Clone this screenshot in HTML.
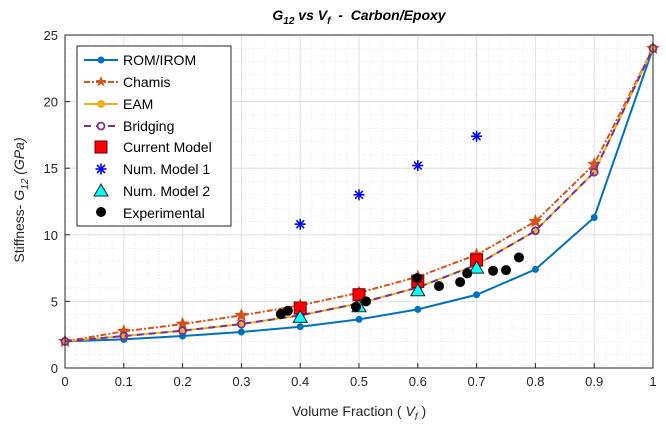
<!DOCTYPE html>
<html><head><meta charset="utf-8"><style>
body{margin:0;background:#fff;font-family:"Liberation Sans",Arial,sans-serif}
svg text{font-family:"Liberation Sans",Arial,sans-serif}
</style></head><body>
<svg id="chart" width="666" height="432" xmlns="http://www.w3.org/2000/svg">
<rect x="0" y="0" width="666" height="432" fill="#fff"/>
<g id="grid"></g><g id="series"></g><g id="axes"></g><g id="legend"></g>
</svg>
<script>
const vf=[0,0.1,0.2,0.3,0.4,0.5,0.6,0.7,0.8,0.9,1];
const rom=[2.0,2.15,2.4,2.7,3.1,3.65,4.4,5.5,7.4,11.3,24];
const chamis=[2.0,2.75,3.3,3.95,4.7,5.65,6.85,8.5,11.0,15.3,24];
const eam=[2.0,2.4,2.8,3.3,3.95,4.85,6.05,7.75,10.3,14.7,24];
const bridging=[2.0,2.4,2.8,3.3,3.95,4.85,6.05,7.75,10.3,14.7,24];
const modelX=[0.4,0.5,0.6,0.7];
const current=[4.5,5.5,6.5,8.1];
const num1=[10.8,13.0,15.2,17.4];
const num2=[3.8,4.6,5.8,7.5];
const expX=[0.367,0.379,0.495,0.512,0.599,0.636,0.672,0.684,0.728,0.75,0.772];
const expY=[4.05,4.3,4.6,5.0,6.75,6.15,6.45,7.1,7.3,7.35,8.3];
const xTicks=[0,0.1,0.2,0.3,0.4,0.5,0.6,0.7,0.8,0.9,1];
const yTicks=[0,5,10,15,20,25];
const X0=65,X1=653,Y0=368,Y1=35;
const sx=v=>X0+(X1-X0)*v, sy=v=>Y0-(Y0-Y1)*v/25;
const NS='http://www.w3.org/2000/svg';
function mk(p,t,a){const e=document.createElementNS(NS,t);for(const k in a)e.setAttribute(k,a[k]);p.appendChild(e);return e;}
const G=document.getElementById('grid'),S=document.getElementById('series'),A=document.getElementById('axes'),L=document.getElementById('legend');
for(let i=0;i<=50;i++){const x=sx(i/50);if(i%5)mk(G,'line',{x1:x,x2:x,y1:Y1,y2:Y0,stroke:'#dcdcdc','stroke-width':0.6,'stroke-dasharray':'1 2'});}
for(let i=0;i<=25;i++){const y=sy(i);if(i%5)mk(G,'line',{x1:X0,x2:X1,y1:y,y2:y,stroke:'#dcdcdc','stroke-width':0.6,'stroke-dasharray':'1 2'});}
xTicks.forEach(t=>{const l=mk(G,'line',{x1:sx(t),x2:sx(t),y1:Y1,y2:Y0,stroke:'#e0e0e0','stroke-width':1});

});
yTicks.forEach(t=>{const l=mk(G,'line',{x1:X0,x2:X1,y1:sy(t),y2:sy(t),stroke:'#e0e0e0','stroke-width':1});

});
function line(xs,ys,color,dash,name){const p=mk(S,'polyline',{points:xs.map((x,i)=>sx(x)+','+sy(ys[i])).join(' '),fill:'none',stroke:color,'stroke-width':2,'stroke-dasharray':dash||''});

}
function star(g,cx,cy,r,color){let pts=[];for(let i=0;i<10;i++){const a=-Math.PI/2+i*Math.PI/5,rr=i%2?r*0.45:r;pts.push((cx+rr*Math.cos(a))+','+(cy+rr*Math.sin(a)));}return mk(g,'polygon',{points:pts.join(' '),fill:color,stroke:color});}
function hexstar(g,cx,cy,r,color){const gg=mk(g,'g',{});[0,60,120].forEach(a=>{const rad=a*Math.PI/180;mk(gg,'line',{x1:cx-r*Math.cos(rad),y1:cy-r*Math.sin(rad),x2:cx+r*Math.cos(rad),y2:cy+r*Math.sin(rad),stroke:color,'stroke-width':1.6});});mk(gg,'line',{x1:cx-r,y1:cy,x2:cx+r,y2:cy,stroke:color,'stroke-width':1.6});return gg;}
function asterisk(g,cx,cy,r,color){const gg=mk(g,'g',{});[0,45,90,135].forEach(a=>{const rad=a*Math.PI/180;mk(gg,'line',{x1:cx-r*Math.cos(rad),y1:cy-r*Math.sin(rad),x2:cx+r*Math.cos(rad),y2:cy+r*Math.sin(rad),stroke:color,'stroke-width':1.6});});return gg;}
line(vf,rom,'#0072bd','','rom-line');
vf.forEach((v,i)=>{const c=mk(S,'circle',{cx:sx(v),cy:sy(rom[i]),r:3.5,fill:'#0072bd'});

});
line(vf,chamis,'#d95319','6 2 2 2','chamis-line');
vf.forEach((v,i)=>{const s=star(S,sx(v),sy(chamis[i]),6,'#d95319');

});
line(vf,eam,'#edb120','','eam-line');
vf.forEach((v,i)=>{const s=hexstar(S,sx(v),sy(eam[i]),4,'#edb120');

});
line(vf,bridging,'#7e2f8e','7 5','bridging-line');
vf.forEach((v,i)=>{const c=mk(S,'circle',{cx:sx(v),cy:sy(bridging[i]),r:3.5,fill:'none',stroke:'#7e2f8e','stroke-width':1.8});

});
modelX.forEach((v,i)=>{const r=mk(S,'rect',{x:sx(v)-6,y:sy(current[i])-6,width:12,height:12,fill:'#ff0000',stroke:'#600',"stroke-width":1});

});
modelX.forEach((v,i)=>{const a=asterisk(S,sx(v),sy(num1[i]),5.5,'#0000ff');

});
modelX.forEach((v,i)=>{const x=sx(v),y=sy(num2[i]);const t=mk(S,'polygon',{points:`${x},${y-7} ${x-7},${y+5} ${x+7},${y+5}`,fill:'#00ffff',stroke:'#222','stroke-width':1});

});
expX.forEach((v,i)=>{const c=mk(S,'circle',{cx:sx(v),cy:sy(expY[i]),r:5,fill:'#000'});

});
mk(A,'rect',{x:X0,y:Y1,width:X1-X0,height:Y0-Y1,fill:'none',stroke:'#262626','stroke-width':1});
xTicks.forEach(t=>{mk(A,'line',{x1:sx(t),x2:sx(t),y1:Y0,y2:Y0-5,stroke:'#262626'});const tx=mk(A,'text',{x:sx(t),y:Y0+18,'text-anchor':'middle','font-size':13,fill:'#262626'});tx.textContent=t;

});
yTicks.forEach(t=>{mk(A,'line',{x1:X0,x2:X0+5,y1:sy(t),y2:sy(t),stroke:'#262626'});const tx=mk(A,'text',{x:X0-7,y:sy(t)+5,'text-anchor':'end','font-size':13,fill:'#262626'});tx.textContent=t;

});
</script>
<svg style="position:absolute;left:0;top:0" width="666" height="432" xmlns="http://www.w3.org/2000/svg">
<text x="359" y="20" text-anchor="middle" font-size="14" font-weight="bold" font-style="italic" fill="#000">G<tspan font-size="10" dy="4">12</tspan><tspan dy="-4">&#160;vs&#160;V</tspan><tspan font-size="10" dy="4">f</tspan><tspan dy="-4">&#160;&#160;-&#160;&#160;Carbon/Epoxy</tspan></text>
<text x="359" y="416" text-anchor="middle" font-size="14" fill="#262626">Volume Fraction (&#160;<tspan font-style="italic">V</tspan><tspan font-size="10" dy="4" font-style="italic">f</tspan><tspan dy="-4">&#160;)</tspan></text>
<text transform="translate(24,200) rotate(-90)" text-anchor="middle" font-size="14" fill="#262626">Stiffness-&#160;<tspan font-style="italic">G</tspan><tspan font-size="10" dy="4" font-style="italic">12</tspan><tspan dy="-4" font-style="italic">&#160;(GPa)</tspan></text>
<g>
<rect x="77" y="46" width="154" height="180" fill="#fff" stroke="#262626" stroke-width="1"/>
<g font-size="14" fill="#000">
<line x1="84" x2="118" y1="60" y2="60" stroke="#0072bd" stroke-width="2"/><circle cx="101" cy="60" r="3.5" fill="#0072bd"/>
<text x="123" y="65">ROM/IROM</text>
<line x1="84" x2="118" y1="82" y2="82" stroke="#d95319" stroke-width="2" stroke-dasharray="6 2 2 2"/><polygon points="101,76 102.6,80 106.5,80 103.4,82.5 104.6,86.5 101,84 97.4,86.5 98.6,82.5 95.5,80 99.4,80" fill="#d95319"/>
<text x="123" y="87">Chamis</text>
<line x1="84" x2="118" y1="104" y2="104" stroke="#edb120" stroke-width="2"/><circle cx="101" cy="104" r="4" fill="#edb120"/>
<text x="123" y="109">EAM</text>
<line x1="84" x2="118" y1="126" y2="126" stroke="#7e2f8e" stroke-width="2" stroke-dasharray="7 5"/><circle cx="101" cy="126" r="3.5" fill="#fff" stroke="#7e2f8e" stroke-width="1.8"/>
<text x="123" y="131">Bridging</text>
<rect x="95" y="141" width="12" height="12" fill="#f00" stroke="#600"/>
<text x="123" y="152">Current Model</text>
<g stroke="#00f" stroke-width="1.6"><line x1="95.5" x2="106.5" y1="169" y2="169"/><line x1="101" x2="101" y1="163.5" y2="174.5"/><line x1="97" x2="105" y1="165" y2="173"/><line x1="105" x2="97" y1="165" y2="173"/></g>
<text x="123" y="174">Num. Model 1</text>
<polygon points="101,184 94,196 108,196" fill="#0ff" stroke="#222"/>
<text x="123" y="196">Num. Model 2</text>
<circle cx="101" cy="212" r="5" fill="#000"/>
<text x="123" y="218">Experimental</text>
</g></g>
</svg>
</body></html>
